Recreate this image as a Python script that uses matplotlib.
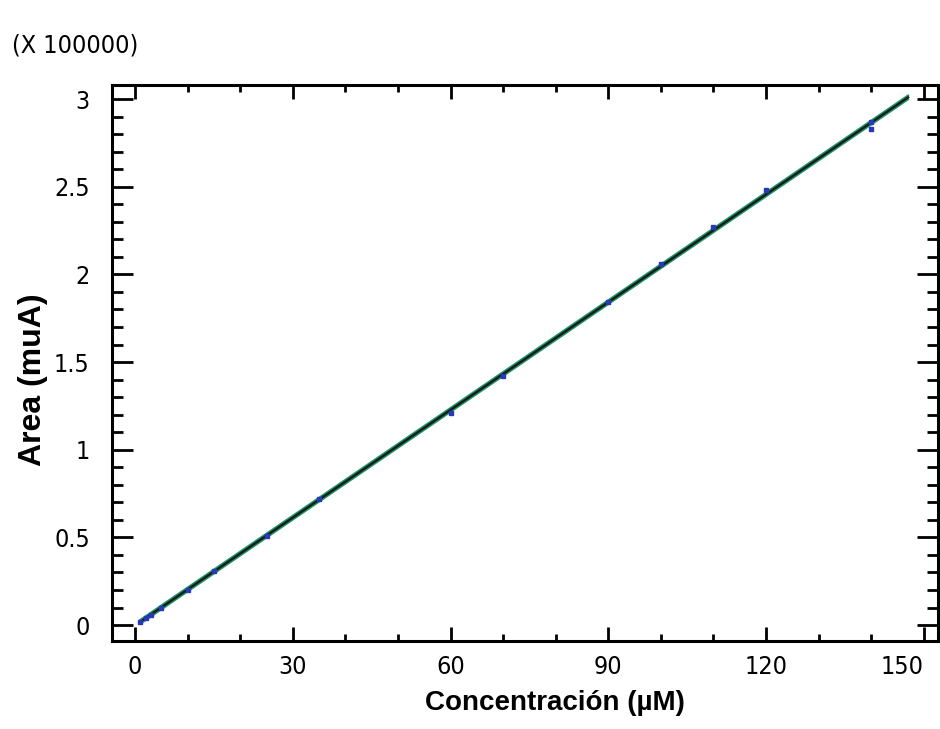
import matplotlib
matplotlib.use("Agg")
import matplotlib.pyplot as plt  # plotting
import numpy as np  # fit of the calibration line
from matplotlib.ticker import MultipleLocator
from matplotlib import font_manager

# calibration data (area in units of 100000)
conc = [1, 2, 3, 5, 10, 15, 25, 35, 60, 70, 90, 100, 110, 120, 140, 140]
area = [0.02, 0.04, 0.06, 0.10, 0.20, 0.31, 0.51, 0.72, 1.21, 1.42, 1.84, 2.06, 2.27, 2.48, 2.87, 2.83]
fit_range = [1, 147]
band_offset = [-0.011, 0.011]

x_labels = ["0", "30", "60", "90", "120", "150"]
y_labels = ["0", "0.5", "1", "1.5", "2", "2.5", "3"]

# condensed face for the tick labels
narrow = font_manager.FontProperties(family="DejaVu Sans", stretch="condensed")

fig = plt.figure(figsize=(9.4, 7.29), dpi=100)
ax = fig.add_axes([112 / 940, 1 - 641 / 729, 826 / 940, 556 / 729])

# regression line and confidence bands
slope, intercept = np.polyfit(conc, area, 1)
xf = np.array(fit_range, dtype=float)
yf = slope * xf + intercept
for off in band_offset:
    ax.plot(xf, yf + off, color="#1a9a6a", lw=1.5, zorder=2)
ax.plot(xf, yf, color="#1c1c1c", lw=1.8, zorder=3)
ax.plot(conc, area, linestyle="none", marker="s", ms=3.5, color="#2838b8", zorder=4)

ax.set_xlim(-4.4, 152.7)
ax.set_ylim(-0.091, 3.08)

ax.xaxis.set_minor_locator(MultipleLocator(10))
ax.yaxis.set_minor_locator(MultipleLocator(0.1))
ax.set_xticks([0, 30, 60, 90, 120, 150])
ax.set_xticklabels(x_labels)
ax.set_yticks([0, 0.5, 1, 1.5, 2, 2.5, 3])
ax.set_yticklabels(y_labels)

ax.tick_params(axis="both", which="both", direction="in", top=True, right=True,
               color="black", width=2)
ax.tick_params(axis="x", which="major", length=10, pad=10)
ax.tick_params(axis="x", which="minor", length=5)
ax.tick_params(axis="y", which="major", length=15, pad=16)
ax.tick_params(axis="y", which="minor", length=8)
for lab in ax.get_xticklabels() + ax.get_yticklabels():
    lab.set_fontproperties(narrow)
    lab.set_fontsize(18)
# keep the last x label inside the picture
ax.get_xticklabels()[-1].set_horizontalalignment("right")
ax.get_xticklabels()[-1].set_x(151.8)

for sp in ax.spines.values():
    sp.set_linewidth(2.2)

fig.text(12 / 940, 1 - 45 / 729, "(X 100000)", fontproperties=narrow, fontsize=18,
         ha="left", va="center")
fig.text(33 / 940, 1 - 380 / 729, "Area (muA)", family="Liberation Sans",
         fontweight="bold", fontsize=23, rotation=90, ha="center", va="center")
fig.text(555 / 940, 1 - 703 / 729, "Concentración (µM)", family="Liberation Sans",
         fontweight="bold", fontsize=20, ha="center", va="center")

fig.savefig("out.png", dpi=100)
